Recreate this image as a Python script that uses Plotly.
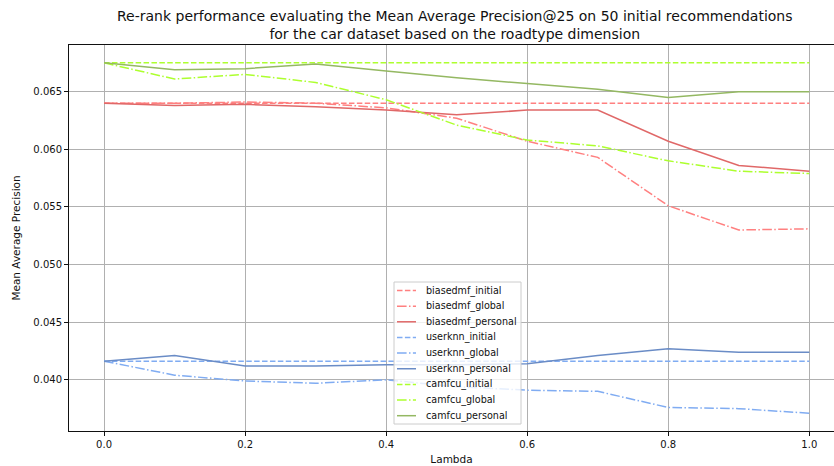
import plotly.graph_objects as go

lambdas = [0.0, 0.1, 0.2, 0.3, 0.4, 0.5, 0.6, 0.7, 0.8, 0.9, 1.0]

biasedmf_initial = [0.0640] * 11
biasedmf_global = [0.0640, 0.0640, 0.0641, 0.0640, 0.0636, 0.0627, 0.0607, 0.0593, 0.0551, 0.0530, 0.0531]
biasedmf_personal = [0.0640, 0.0638, 0.0639, 0.0637, 0.0634, 0.0630, 0.0634, 0.0634, 0.0607, 0.0586, 0.0581]
userknn_initial = [0.04162] * 11
userknn_global = [0.04162, 0.0404, 0.0399, 0.0397, 0.0400, 0.0394, 0.0391, 0.0390, 0.0376, 0.0375, 0.0371]
userknn_personal = [0.04162, 0.0421, 0.0412, 0.0412, 0.0413, 0.0413, 0.0414, 0.0421, 0.0427, 0.0424, 0.0424]
camfcu_initial = [0.0675] * 11
camfcu_global = [0.0675, 0.0661, 0.0665, 0.0658, 0.0643, 0.0621, 0.0608, 0.0603, 0.0590, 0.0581, 0.0579]
camfcu_personal = [0.0675, 0.0669, 0.0670, 0.0674, 0.0668, 0.0662, 0.0657, 0.0652, 0.0645, 0.0650, 0.0650]

y_ticks = [0.040, 0.045, 0.050, 0.055, 0.060, 0.065]
x_ticks = [0.0, 0.2, 0.4, 0.6, 0.8, 1.0]

DASH = "5.5px,2.4px"
DASHDOT = "9.6px,2.4px,1.5px,2.4px"

series = [
    ("biasedmf_initial", biasedmf_initial, "#ff8080", DASH),
    ("biasedmf_global", biasedmf_global, "#ff8080", DASHDOT),
    ("biasedmf_personal", biasedmf_personal, "#e06868", "solid"),
    ("userknn_initial", userknn_initial, "#80acf2", DASH),
    ("userknn_global", userknn_global, "#80acf2", DASHDOT),
    ("userknn_personal", userknn_personal, "#6a8cc6", "solid"),
    ("camfcu_initial", camfcu_initial, "#adff2f", DASH),
    ("camfcu_global", camfcu_global, "#adff2f", DASHDOT),
    ("camfcu_personal", camfcu_personal, "#94b862", "solid"),
]

W, H = 834, 466
ML, MR, MT, MB = 69, 0, 45, 35
PW, PH = W - ML - MR, H - MT - MB


def px(x):
    return (x - ML) / PW


def py(y):
    return (H - MB - y) / PH


fig = go.Figure()
for name, vals, color, dash in series:
    fig.add_trace(go.Scatter(x=lambdas, y=vals, mode="lines", name=name,
                             line=dict(color=color, width=1.5, dash=dash)))

font = "DejaVu Sans, sans-serif"
fig.update_layout(
    width=W, height=H,
    margin=dict(l=ML, r=MR, t=MT, b=MB, autoexpand=False),
    plot_bgcolor="white", paper_bgcolor="white",
    font=dict(family=font, size=10, color="#111"),
    showlegend=False,
    xaxis=dict(range=[-0.0497, 1.035], tickvals=x_ticks, tickformat=".1f",
               showgrid=True, gridcolor="#b0b0b0", gridwidth=1,
               showline=True, linecolor="#111", linewidth=1, mirror=True,
               ticks="outside", ticklen=4, tickcolor="#111",
               zeroline=False, automargin=False,
               title=dict(text="Lambda", standoff=6, font=dict(size=10.5))),
    yaxis=dict(range=[0.03556, 0.06905], tickvals=y_ticks, tickformat=".3f",
               showgrid=True, gridcolor="#b0b0b0", gridwidth=1,
               showline=True, linecolor="#111", linewidth=1, mirror=False,
               ticks="outside", ticklen=4, tickcolor="#111",
               zeroline=False, automargin=False,
               title=dict(text="Mean Average Precision", standoff=10, font=dict(size=10.5))),
)

# title
fig.add_annotation(
    text="Re-rank performance evaluating the Mean Average Precision@25 on 50 initial recommendations<br>for the car dataset based on the roadtype dimension",
    xref="paper", yref="paper", x=px(455), y=1.0, xanchor="center", yanchor="bottom",
    yshift=1, showarrow=False, font=dict(family=font, size=14, color="#111"))

# legend box (drawn manually to match compact matplotlib spacing)
LX0, LX1, LY0, LY1 = 394, 521, 282, 424
fig.add_shape(type="rect", xref="paper", yref="paper",
              x0=px(LX0), x1=px(LX1), y0=py(LY1), y1=py(LY0),
              line=dict(color="#cccccc", width=1), fillcolor="rgba(255,255,255,0.8)",
              layer="above")
for i, (name, vals, color, dash) in enumerate(series):
    yy = 290.5 + i * 15.65
    fig.add_shape(type="line", xref="paper", yref="paper",
                  x0=px(397), x1=px(416), y0=py(yy), y1=py(yy),
                  line=dict(color=color, width=1.5, dash=dash), layer="above")
    fig.add_annotation(text=name, xref="paper", yref="paper", x=px(424), y=py(yy),
                       xanchor="left", yanchor="middle", showarrow=False,
                       font=dict(family=font, size=9.6, color="#111"))

fig.write_html("out.html", config={"displayModeBar": False},
               post_script="document.body.style.margin='0';")
